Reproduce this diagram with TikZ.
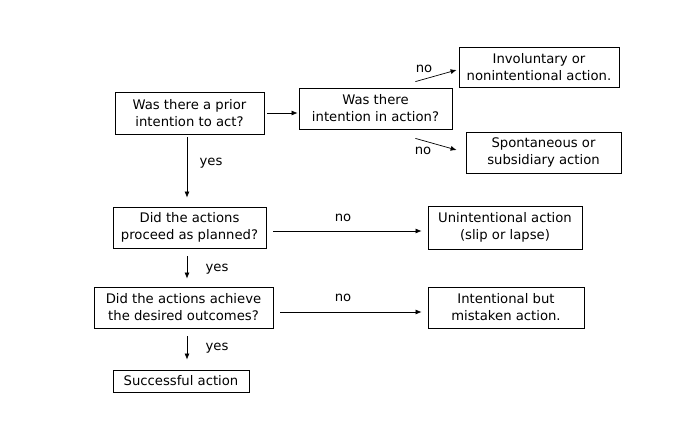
\documentclass[tikz,border=0pt]{standalone}
\usepackage{fontspec}
\setmainfont{DejaVu Sans}
\usetikzlibrary{arrows.meta,calc}
\begin{document}
\begin{tikzpicture}[x=1pt,y=-1pt,
  box/.style={draw=black,line width=0.8pt,align=center,inner sep=0pt,
    font=\fontsize{13.2}{17}\selectfont},
  lbl/.style={font=\fontsize{13.2}{15}\selectfont,inner sep=0pt},
  arr/.style={draw=black,line width=0.7pt,-{Latex[length=6pt,width=5pt]}}]
\useasboundingbox (0,0) rectangle (697,447);
\node[box,minimum width=149pt,minimum height=42pt] (b1) at (189.5,113) {Was there a prior\\intention to act?};
\node[box,minimum width=153pt,minimum height=41pt] (b2) at (375.5,108.5) {Was there\\intention in action?};
\node[box,minimum width=160pt,minimum height=40pt] (b3) at (539,67) {Involuntary or\\nonintentional action.};
\node[box,minimum width=155pt,minimum height=41pt] (b4) at (543.5,152.5) {Spontaneous or\\subsidiary action};
\node[box,minimum width=153pt,minimum height=41pt] (b5) at (189.5,227.5) {Did the actions\\proceed as planned?};
\node[box,minimum width=179pt,minimum height=41pt] (b6) at (183.5,307.5) {Did the actions achieve\\the desired outcomes?};
\node[box,minimum width=136pt,minimum height=22pt] (b7) at (181,381) {Successful action};
\node[box,minimum width=154pt,minimum height=43pt] (b8) at (505,227.5) {Unintentional action\\(slip or lapse)};
\node[box,minimum width=156pt,minimum height=41pt] (b9) at (506,307.5) {Intentional but\\mistaken action.};
% connectors
\draw[arr] ($(b1.east)+(3,0)$) -- ($(b2.west|-b1.east)+(-1,0)$);
\draw[arr] ($(b1.south)+(-2.5,3)$) -- ($(b5.north)+(-2.5,-9)$);
\draw[arr] ($(b2.north east)+(-37,-6)$) -- ($(b3.west)+(-2,3)$);
\draw[arr] ($(b2.south east)+(-37,9)$) -- ($(b4.west)+(-9,-2.5)$);
\draw[arr] ($(b5.east)+(7,3.5)$) -- ($(b8.west)+(-6,3.5)$);
\draw[arr] ($(b5.south)+(-2.5,8)$) -- ($(b6.north)+(3.5,-8)$);
\draw[arr] ($(b6.east)+(7,4.5)$) -- ($(b9.west)+(-6,4.5)$);
\draw[arr] ($(b6.south)+(3.5,8)$) -- ($(b7.north)+(6,-10)$);
% labels
\node[lbl] (y1) at (211,163) {yes};
\node[lbl] (y2) at (217,269) {yes};
\node[lbl] (y3) at (217,348) {yes};
\node[lbl] (no1) at (424,69) {no};
\node[lbl] (no2) at (423,151) {no};
\node[lbl] (no3) at (343,218) {no};
\node[lbl] (no4) at (343,298) {no};
\end{tikzpicture}
\end{document}
